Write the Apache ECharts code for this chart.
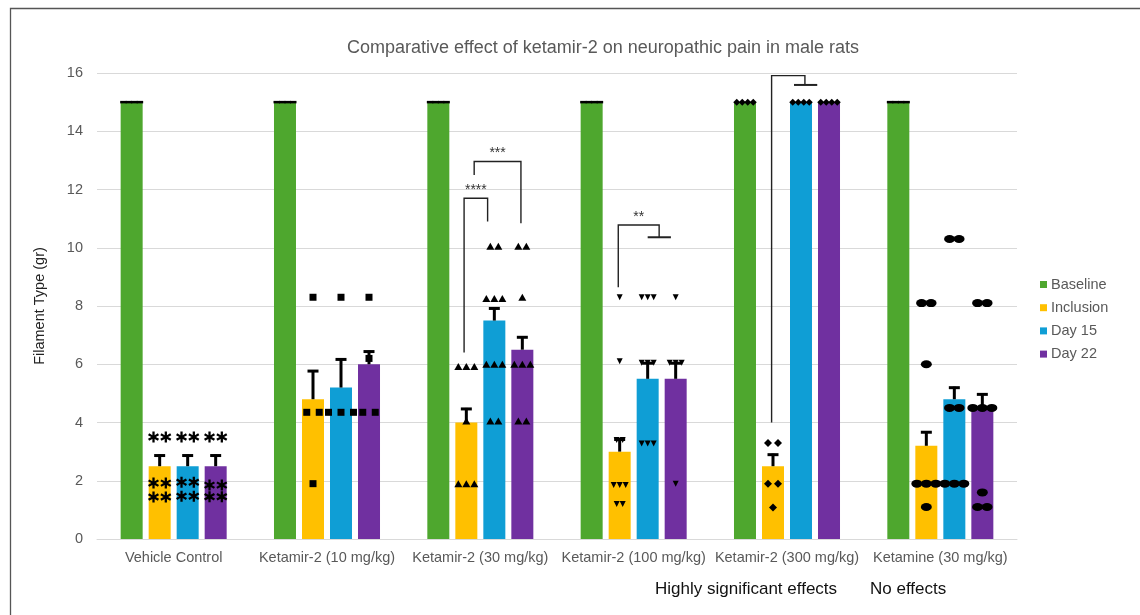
<!DOCTYPE html>
<html>
<head>
<meta charset="utf-8">
<script src="https://cdn.jsdelivr.net/npm/echarts@6/dist/echarts.min.js"></script>
<style>
  html, body { margin: 0; padding: 0; background: #fff; }
  #chart { width: 1140px; height: 615px; }
</style>
</head>
<body>
<div id="chart"></div>
<script>
// ---- data ----
const categories = ['Vehicle Control', 'Ketamir-2 (10 mg/kg)', 'Ketamir-2 (30 mg/kg)',
  'Ketamir-2 (100 mg/kg)', 'Ketamir-2 (300 mg/kg)', 'Ketamine (30 mg/kg)'];
const seriesNames = ['Baseline', 'Inclusion', 'Day 15', 'Day 22'];

// group means (g)
const baselineMean  = [15, 15, 15, 15, 15, 15];
const inclusionMean = [2.5, 4.8, 4.0, 3.0, 2.5, 3.2];
const day15Mean     = [2.5, 5.2, 7.5, 5.5, 15, 4.8];
const day22Mean     = [2.5, 6.0, 6.5, 5.5, 15, 4.5];

// standard error of the mean (upper whisker only)
const baselineSem  = [0, 0, 0, 0, 0, 0];
const inclusionSem = [0.4, 1.0, 0.5, 0.45, 0.43, 0.5];
const day15Sem     = [0.4, 1.0, 0.45, 0.57, 0, 0.43];
const day22Sem     = [0.4, 0.47, 0.46, 0.57, 0, 0.5];

// individual animals: [group index, filament value]
const baselinePts = [
  [0, 15], [0, 15], [0, 15], [0, 15],
  [1, 15], [1, 15], [1, 15], [1, 15],
  [2, 15], [2, 15], [2, 15], [2, 15],
  [3, 15], [3, 15], [3, 15], [3, 15],
  [4, 15], [4, 15], [4, 15], [4, 15],
  [5, 15], [5, 15], [5, 15], [5, 15]
];
const inclusionPts = [
  [0, 3.5], [0, 3.5], [0, 1.92], [0, 1.92], [0, 1.44], [0, 1.44],
  [1, 8.3], [1, 4.35], [1, 4.35], [1, 1.9],
  [2, 5.92], [2, 5.92], [2, 5.92], [2, 4.05], [2, 1.9], [2, 1.9], [2, 1.9],
  [3, 8.3], [3, 6.1], [3, 3.4], [3, 3.4], [3, 1.85], [3, 1.85], [3, 1.85], [3, 1.2], [3, 1.2],
  [4, 3.3], [4, 3.3], [4, 1.9], [4, 1.9], [4, 1.08],
  [5, 8.1], [5, 8.1], [5, 6.0], [5, 1.9], [5, 1.9], [5, 1.9], [5, 1.1]
];
const day15Pts = [
  [0, 3.5], [0, 3.5], [0, 1.95], [0, 1.95], [0, 1.47], [0, 1.47],
  [1, 8.3], [1, 4.35], [1, 4.35], [1, 4.35],
  [2, 10.05], [2, 10.05], [2, 8.26], [2, 8.26], [2, 8.26], [2, 6.0], [2, 6.0], [2, 6.0], [2, 4.05], [2, 4.05],
  [3, 8.3], [3, 8.3], [3, 8.3], [3, 6.05], [3, 6.05], [3, 6.05], [3, 3.28], [3, 3.28], [3, 3.28],
  [4, 15], [4, 15], [4, 15], [4, 15],
  [5, 10.3], [5, 10.3], [5, 4.5], [5, 4.5], [5, 1.9], [5, 1.9], [5, 1.9]
];
const day22Pts = [
  [0, 3.5], [0, 3.5], [0, 1.85], [0, 1.85], [0, 1.45], [0, 1.45],
  [1, 8.3], [1, 6.2], [1, 4.35], [1, 4.35],
  [2, 10.05], [2, 10.05], [2, 8.3], [2, 6.0], [2, 6.0], [2, 6.0], [2, 4.05], [2, 4.05],
  [3, 8.3], [3, 6.05], [3, 6.05], [3, 6.05], [3, 1.9],
  [4, 15], [4, 15], [4, 15], [4, 15],
  [5, 8.1], [5, 8.1], [5, 4.5], [5, 4.5], [5, 4.5], [5, 1.6], [5, 1.1], [5, 1.1]
];

// significance brackets: bar slot (0 Baseline .. 3 Day 22), heights in g
const brackets = [
  { group: 2, left: 0.92, right: 1.76, yLeft: 6.4,  yTop: 11.7,  yRight: 10.9,  label: '****' },
  { group: 2, left: 1.28, right: 2.95, yLeft: 12.5, yTop: 12.96, yRight: 10.84, label: '***' },
  { group: 3, left: 0.95, right: 2.41, yLeft: 8.64, yTop: 10.78, yRight: 10.36, label: '**', spanFrom: 2.0, spanTo: 2.83 },
  { group: 4, left: 0.95, right: 2.14, yLeft: 4.0,  yTop: 15.91, yRight: 15.59, label: '',   spanFrom: 1.75, spanTo: 2.58 }
];

const Y_MAX = 16;
const Y_STEP = 2;

// ---- styling ----
const colors = ['#4EA72E', '#FFC000', '#0F9ED5', '#7030A0'];
const FONT = 'Liberation Sans, Arial, sans-serif';
const BAR_W = 22;
const BAR_PITCH = 28;          // bar width + gap
const slotOffset = p => (p - 1.5) * BAR_PITCH;

// asterisk outline with six arms of constant width
function asteriskPath() {
  const R = 50, w = 10, c = 50;
  const d = Math.atan(w / R), rt = Math.sqrt(R * R + w * w);
  const pts = [];
  for (let k = 0; k < 6; k++) {
    const a = -Math.PI / 2 + k * Math.PI / 3;
    pts.push([c + rt * Math.cos(a - d), c + rt * Math.sin(a - d)]);
    pts.push([c + rt * Math.cos(a + d), c + rt * Math.sin(a + d)]);
    const b = a + Math.PI / 6;
    pts.push([c + 2 * w * Math.cos(b), c + 2 * w * Math.sin(b)]);
  }
  return 'path://' + pts.map((q, i) => (i ? 'L' : 'M') + q[0].toFixed(2) + ' ' + q[1].toFixed(2)).join(' ') + ' Z';
}
const ASTERISK = asteriskPath();

// marker per treatment group
const markerShape  = [ASTERISK, 'rect', 'triangle', 'triangle', 'diamond', 'circle'];
const markerSize   = [[11, 11], [7, 7], [8, 7], [6, 6], [8, 8], [11, 8]];
const markerRotate = [0, 0, 0, 180, 0, 0];
const markerSpread = [12.3, 12.5, 8, 6, 10, 9.5];

function buildPoints(pts, slot, isBaseline) {
  const counts = {}, seen = {};
  pts.forEach(([g, v]) => { const k = g + '|' + v; counts[k] = (counts[k] || 0) + 1; });
  return pts.map(([g, v]) => {
    const k = g + '|' + v;
    const i = seen[k] = (seen[k] === undefined ? 0 : seen[k] + 1);
    const n = counts[k];
    const flat = isBaseline && g !== 4;
    const crowded = v >= 15;               // ceiling values sit packed along the bar top
    const spread = crowded ? 5.5 : markerSpread[g];
    return {
      value: [g, v],
      symbol: flat ? 'rect' : markerShape[g],
      symbolSize: flat ? [6.5, 2.5] : (crowded ? [7, 7] : markerSize[g]),
      symbolRotate: flat ? 0 : markerRotate[g],
      symbolOffset: [slotOffset(slot) + (i - (n - 1) / 2) * spread, 0]
    };
  });
}

const means = [baselineMean, inclusionMean, day15Mean, day22Mean];
const sems = [baselineSem, inclusionSem, day15Sem, day22Sem];
const pointSets = [baselinePts, inclusionPts, day15Pts, day22Pts];

const errData = [];
means.forEach((m, s) => m.forEach((v, g) => errData.push([g, s, v, sems[s][g]])));

const chart = echarts.init(document.getElementById('chart'), null, { renderer: 'canvas' });

const series = [];
seriesNames.forEach((name, s) => {
  series.push({
    name, type: 'bar', data: means[s], barWidth: BAR_W, barGap: '27.3%',
    itemStyle: { color: colors[s] }, z: 2, emphasis: { disabled: true }
  });
});
series.push({
  type: 'custom', name: 'sem', data: errData, z: 3, silent: true,
  encode: { x: 0, y: 2 },
  renderItem: (params, api) => {
    const g = api.value(0), s = api.value(1), m = api.value(2), e = api.value(3);
    if (!e) return;
    const base = api.coord([g, m]);
    const top = api.coord([g, m + e]);
    const x = base[0] + slotOffset(s);
    return {
      type: 'group', children: [
        { type: 'line', shape: { x1: x, y1: base[1], x2: x, y2: top[1] }, style: { stroke: '#000', lineWidth: 3 } },
        { type: 'line', shape: { x1: x - 5.5, y1: top[1] + 1, x2: x + 5.5, y2: top[1] + 1 }, style: { stroke: '#000', lineWidth: 3 } }
      ]
    };
  }
});
pointSets.forEach((pts, s) => {
  series.push({
    name: seriesNames[s] + ' animals', type: 'scatter', z: 4, silent: true,
    data: buildPoints(pts, s, s === 0),
    itemStyle: { color: '#000', opacity: 1 }
  });
});
series.push({
  type: 'custom', name: 'significance', z: 5, silent: true, clip: false,
  data: brackets.map((b, i) => [b.group, b.yTop, i]),
  encode: { x: 0, y: 1 },
  renderItem: (params, api) => {
    const b = brackets[api.value(2)];
    const c = api.coord([b.group, 0])[0];
    const xl = c + slotOffset(b.left), xr = c + slotOffset(b.right);
    const yl = api.coord([b.group, b.yLeft])[1];
    const yt = api.coord([b.group, b.yTop])[1];
    const yr = api.coord([b.group, b.yRight])[1];
    const kids = [{
      type: 'polyline', shape: { points: [[xl, yl], [xl, yt], [xr, yt], [xr, yr]] },
      style: { stroke: '#222', lineWidth: 1.4, fill: null }
    }];
    if (b.spanFrom !== undefined) {
      kids.push({
        type: 'line',
        shape: { x1: c + slotOffset(b.spanFrom), y1: yr, x2: c + slotOffset(b.spanTo), y2: yr },
        style: { stroke: '#222', lineWidth: 2 }
      });
    }
    if (b.label) {
      kids.push({
        type: 'text',
        style: {
          text: b.label, x: (xl + xr) / 2, y: yt - 1, fill: '#333',
          font: '14px ' + FONT, textAlign: 'center', textVerticalAlign: 'bottom',
          align: 'center', verticalAlign: 'bottom'
        }
      });
    }
    return { type: 'group', children: kids };
  }
});

chart.setOption({
  animation: false,
  backgroundColor: '#fff',
  title: {
    text: 'Comparative effect of ketamir-2 on neuropathic pain in male rats',
    left: 598, top: 34, textAlign: 'center',
    textStyle: { color: '#595959', fontSize: 18, fontWeight: 'normal', fontFamily: FONT }
  },
  legend: {
    data: seriesNames, orient: 'vertical', left: 1035, top: 272,
    icon: 'rect', itemWidth: 7, itemHeight: 7, itemGap: 8.2,
    textStyle: { color: '#595959', fontSize: 14.5, fontFamily: FONT, padding: [0, 0, 0, -1] }
  },
  grid: { left: 97, right: 123, top: 73, bottom: 76 },
  xAxis: {
    type: 'category', data: categories,
    axisLine: { show: true, lineStyle: { color: '#d9d9d9', width: 1 } },
    axisTick: { show: false },
    axisLabel: { color: '#595959', fontSize: 14.5, fontFamily: FONT, margin: 11, interval: 0 }
  },
  yAxis: {
    type: 'value', min: 0, max: Y_MAX, interval: Y_STEP,
    name: 'Filament Type (gr)', nameLocation: 'middle', nameGap: 50, nameRotate: 90,
    nameTextStyle: { color: '#222', fontSize: 14.5, fontFamily: FONT },
    axisLine: { show: false }, axisTick: { show: false },
    axisLabel: { color: '#595959', fontSize: 14.5, fontFamily: FONT, margin: 14 },
    splitLine: { lineStyle: { color: '#d9d9d9', width: 1 } }
  },
  graphic: [
    { type: 'rect', shape: { x: 10.5, y: 8.5, width: 1400, height: 900 },
      style: { fill: null, stroke: '#555', lineWidth: 1.3 }, silent: true },
    { type: 'text', left: 655, top: 581,
      style: { text: 'Highly significant effects', fill: '#111', font: '17px ' + FONT } },
    { type: 'text', left: 870, top: 581,
      style: { text: 'No effects', fill: '#111', font: '17px ' + FONT } }
  ],
  series
});
</script>
</body>
</html>
